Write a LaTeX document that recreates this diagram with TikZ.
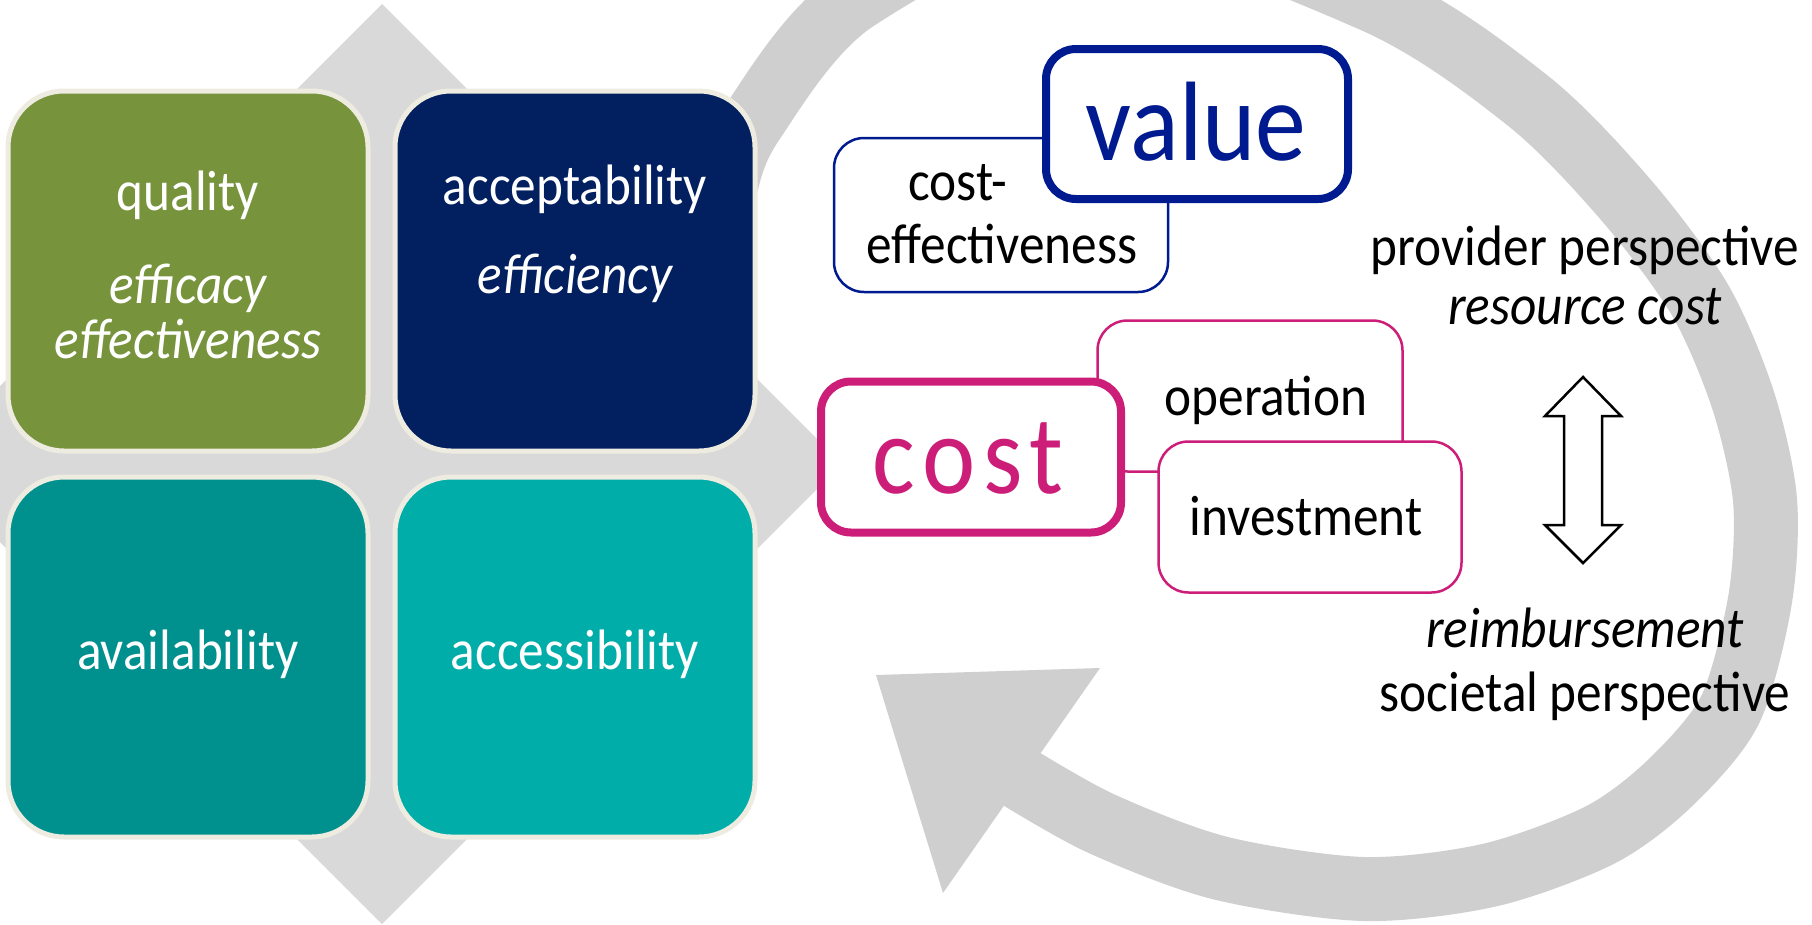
\documentclass[tikz,border=0pt]{standalone}
\usepackage{fontspec}
\setmainfont{Carlito}[FakeStretch=0.9]
\definecolor{qgreen}{RGB}{119,147,60}
\definecolor{anavy}{RGB}{2,32,96}
\definecolor{avteal}{RGB}{0,145,143}
\definecolor{acteal}{RGB}{0,173,169}
\definecolor{cream}{RGB}{238,236,225}
\definecolor{dgray}{RGB}{217,217,217}
\definecolor{agray}{RGB}{207,207,207}
\definecolor{vblue}{RGB}{0,26,143}
\definecolor{cmag}{RGB}{204,30,120}
\begin{document}
\begin{tikzpicture}[x=1pt,y=-1pt,
  every node/.style={inner sep=0pt, outer sep=0pt},
  txt/.style={anchor=base, font=\fontsize{57}{66}\selectfont},
  itxt/.style={anchor=base, font=\fontsize{57}{66}\selectfont\itshape},
  mbox/.style={draw=cream, line width=5pt, rounded corners=56pt, minimum width=360pt, minimum height=360pt},
  thinbox/.style={line width=2.5pt, rounded corners=30pt, fill=white, minimum height=151pt},
  thickbox/.style={line width=8pt, rounded corners=30pt, fill=white},
]
\useasboundingbox (0,0) rectangle (1812,924);
\clip (0,0) rectangle (1812,924);
% background diamond
\fill[dgray] (382,4) -- (842,464) -- (382,924) -- (-78,464) -- cycle;
% circular arrow
\draw[agray, line width=64pt] plot[smooth, tension=0.5] coordinates {(712,300) (725,190) (754,120) (855,0) (1080,-95) (1372,0) (1527,100) (1626,200) (1700,300) (1743,400) (1765,500) (1760,600) (1730,710) (1670,783) (1600,835) (1490,875) (1364,889) (1220,868) (1100,823) (1010,772)};
\fill[agray] (876,675) -- (1100,668) -- (943,893) -- cycle;
% matrix
\node[mbox, fill=qgreen] (quality) at (188,271) {};
\node[mbox, fill=anavy] (accept) at (575,271) {};
\node[mbox, fill=avteal] (avail) at (188,657) {};
\node[mbox, fill=acteal] (access) at (575,657) {};
\node[txt, text=white] (tq) at (188,210) {quality};
\node[itxt, text=white] (tq1) at (188,303) {efficacy};
\node[itxt, text=white] (tq2) at (188,358) {effectiveness};
\node[txt, text=white] (ta) at (575,204) {acceptability};
\node[itxt, text=white] (ta1) at (575,293) {efficiency};
\node[txt, text=white] (tav) at (188,669) {availability};
\node[txt, text=white] (tac) at (575,669) {accessibility};
% value group
\node[thinbox, draw=vblue, minimum width=334pt, minimum height=154pt] (ce) at (1001,215) {};
\node[thickbox, draw=vblue, minimum width=302pt, minimum height=150pt] (value) at (1197,124) {};
\node[anchor=base, text=vblue, font=\fontsize{113}{120}\selectfont] (tv) at (1196,160) {value};
\node[txt] (tce1) at (958,200) {cost-};
\node[txt] (tce2) at (1002,263) {effectiveness};
% cost group
\node[thinbox, draw=cmag, minimum width=305pt] (oper) at (1250,396) {};
\node[thickbox, draw=cmag, minimum width=300pt, minimum height=151pt] (cost) at (971,457) {};
\node[thinbox, draw=cmag, minimum width=303pt] (invest) at (1310,517) {};
\node[anchor=base, text=cmag, font=\fontsize{112}{120}\selectfont\addfontfeature{LetterSpace=7}] (tc) at (968,493) {cost};
\node[txt] (top) at (1266,415) {operation};
\node[txt] (tin) at (1306,535) {investment};
% right side
\node[txt] (pp) at (1585,265) {provider perspective};
\node[itxt] (rc) at (1585,324) {resource cost};
\node[itxt] (rb) at (1585,647) {reimbursement};
\node[txt] (sp) at (1585,711) {societal perspective};
\draw[line width=2.5pt, fill=white] (1583,377) -- (1621,416) -- (1602,416) -- (1602,525) -- (1621,525) -- (1583,563) -- (1545,525) -- (1564,525) -- (1564,416) -- (1545,416) -- cycle;
\end{tikzpicture}
\end{document}
